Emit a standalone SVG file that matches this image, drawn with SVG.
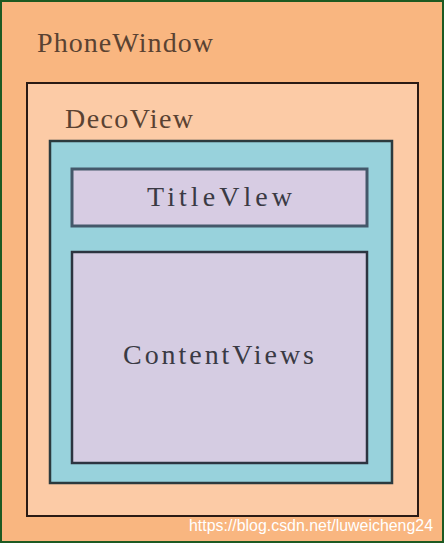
<svg xmlns="http://www.w3.org/2000/svg" width="444" height="543" viewBox="0 0 444 543">
<style>
.lbl{font-family:"Liberation Serif","DejaVu Serif",serif;font-size:28px;}
.wm{font-family:"Liberation Sans",Arial,sans-serif;font-size:16px;fill:#ffffff;}
</style>
<g id="phonewindow">
<rect x="1" y="1" width="442" height="541" fill="#f9b680" stroke="#1d5a22" stroke-width="2"/>
<text class="lbl" x="37" y="52" textLength="176" lengthAdjust="spacing" fill="#5a4232">PhoneWindow</text>
</g>
<g id="decoview">
<rect x="27" y="83" width="391" height="433" fill="#fccba6" stroke="#2a1a14" stroke-width="2"/>
<text class="lbl" x="65" y="128" textLength="128" lengthAdjust="spacing" fill="#5a4232">DecoView</text>
</g>
<g id="container">
<rect x="50" y="141" width="342" height="342" fill="#98d2dc" stroke="#2b3a3e" stroke-width="2.5"/>
</g>
<g id="titleview">
<rect x="72" y="169" width="295" height="57" fill="#d7cce3" stroke="#44586a" stroke-width="3"/>
<text class="lbl" x="147" y="206" textLength="145" lengthAdjust="spacing" fill="#3a3a44">TitleVlew</text>
</g>
<g id="contentviews">
<rect x="72" y="252" width="295" height="211" fill="#d5cce2" stroke="#2c3440" stroke-width="2.5"/>
<text class="lbl" x="123" y="364" textLength="191" lengthAdjust="spacing" fill="#3a3a44">ContentViews</text>
</g>
<g id="connectors"></g>
<text class="wm" x="189" y="531" textLength="244" lengthAdjust="spacingAndGlyphs">https://blog.csdn.net/luweicheng24</text>
</svg>
